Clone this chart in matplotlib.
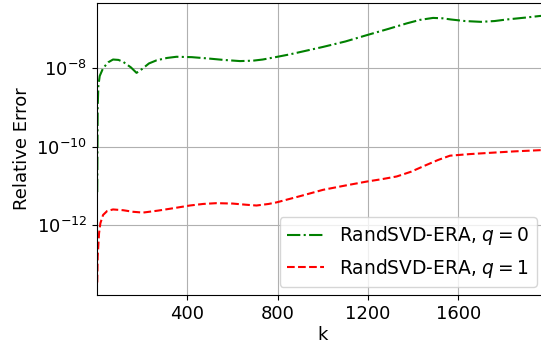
import matplotlib
matplotlib.use("Agg")
import matplotlib.pyplot as plt
import numpy as np

# k values and log10(relative error)
k_q0 = [1, 3, 6, 12, 27, 50, 71, 95, 116, 150, 175, 200, 230, 264, 310, 352, 420, 485,
        560, 633, 690, 734, 790, 853, 1000, 1100, 1194, 1290, 1371, 1430, 1488, 1530,
        1567, 1630, 1700, 1760, 1814, 1900, 1962, 2000]
log_err_q0 = [-11.16, -9.0, -8.45, -8.2, -8.0, -7.85, -7.78, -7.79, -7.84, -7.98, -8.12,
              -8.02, -7.88, -7.80, -7.74, -7.71, -7.72, -7.75, -7.79, -7.82, -7.81, -7.78,
              -7.72, -7.65, -7.46, -7.32, -7.16, -7.0, -6.86, -6.77, -6.72, -6.73, -6.76,
              -6.80, -6.82, -6.80, -6.76, -6.71, -6.67, -6.66]

k_q1 = [1, 3, 9, 15, 27, 45, 71, 116, 160, 204, 270, 337, 411, 470, 529, 600, 660, 706,
        760, 795, 900, 1001, 1100, 1194, 1260, 1327, 1390, 1445, 1510, 1563, 1650, 1733,
        1850, 1962, 2000]
log_err_q1 = [-13.46, -12.8, -12.21, -11.95, -11.74, -11.64, -11.60, -11.62, -11.66,
              -11.68, -11.63, -11.57, -11.50, -11.46, -11.44, -11.45, -11.48, -11.50,
              -11.46, -11.42, -11.26, -11.10, -10.99, -10.89, -10.83, -10.76, -10.64,
              -10.50, -10.34, -10.23, -10.19, -10.16, -10.12, -10.09, -10.08]

x_ticks = [400, 800, 1200, 1600]
y_ticks = [1e-12, 1e-10, 1e-8]
labels = [r"RandSVD-ERA, $q = 0$", r"RandSVD-ERA, $q = 1$"]

fig = plt.figure(figsize=(5.41, 3.43), dpi=100)
ax = fig.add_axes([97 / 541, 48 / 343, (548.7 - 97) / 541, 292 / 343])

ax.semilogy(k_q0, 10.0 ** np.array(log_err_q0), color="green", linestyle="-.",
            linewidth=1.5, label=labels[0])
ax.semilogy(k_q1, 10.0 ** np.array(log_err_q1), color="red", linestyle="--",
            linewidth=1.5, label=labels[1])

ax.set_xlim(0, 2000)
ax.set_ylim(10 ** -13.78, 10 ** -6.34)
ax.set_xticks(x_ticks)
ax.set_yticks(y_ticks)
ax.yaxis.set_minor_locator(matplotlib.ticker.NullLocator())
ax.tick_params(labelsize=13)
ax.grid(True, which="major", color="#b0b0b0", linewidth=0.8)
ax.set_xlabel("k", fontsize=13, labelpad=2)
ax.set_ylabel("Relative Error", fontsize=13)
ax.legend(loc="lower right", bbox_to_anchor=(0.974, 0.027), borderaxespad=0,
          fontsize=13.4)

fig.savefig("out.png", dpi=100)
